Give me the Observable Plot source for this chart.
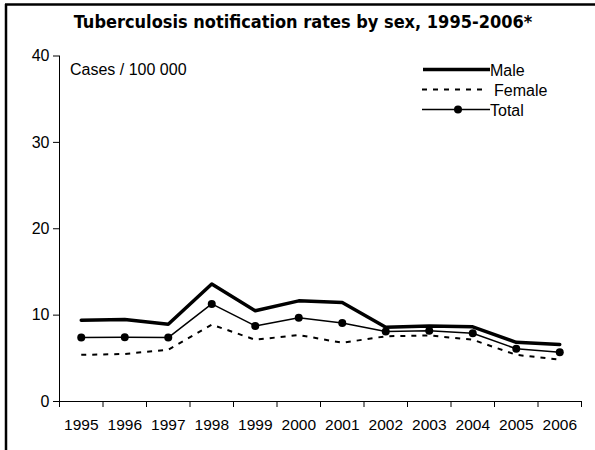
<!DOCTYPE html>
<html><head><meta charset="utf-8">
<script src="https://cdn.jsdelivr.net/npm/d3@7"></script>
<script src="https://cdn.jsdelivr.net/npm/@observablehq/plot@0.6"></script>
<style>body{margin:0;background:#fff} svg{display:block}</style>
</head><body><div id="chart"></div>
<script>
const years = [1995,1996,1997,1998,1999,2000,2001,2002,2003,2004,2005,2006];
const male   = [9.4, 9.5, 8.95, 13.6, 10.5, 11.65, 11.45, 8.6, 8.75, 8.65, 6.85, 6.6];
const female = [5.4, 5.5, 6.0, 8.9, 7.15, 7.7, 6.8, 7.55, 7.65, 7.15, 5.4, 4.85];
const total  = [7.4, 7.45, 7.4, 11.3, 8.75, 9.7, 9.1, 8.1, 8.2, 7.9, 6.1, 5.7];
const yTicks = [0, 10, 20, 30, 40];
const seriesNames = ["Male", "Female", "Total"];
const titleText = "Tuberculosis notification rates by sex, 1995-2006*";
const unitLabel = "Cases / 100 000";

const rows = s => years.map((year, i) => ({year, value: s[i]}));
const bounds = [years[0] - 0.5, ...years.map(y => y + 0.5)];
const FONT = "'Liberation Sans', Arial, sans-serif";

const chart = Plot.plot({
  width: 595, height: 450,
  marginLeft: 59, marginRight: 14, marginTop: 55.5, marginBottom: 49,
  style: {fontFamily: FONT, fontSize: "15.5px", color: "#000", background: "#fff"},
  x: {type: "linear", domain: [bounds[0], bounds[bounds.length - 1]]},
  y: {domain: [0, 40]},
  marks: [
    Plot.ruleX([bounds[0]], {y1: 0, y2: 40, stroke: "#000"}),
    Plot.ruleY([0], {x1: bounds[0], x2: bounds[bounds.length - 1], stroke: "#000"}),
    Plot.axisY({ticks: yTicks, tickSize: 6, tickPadding: 4, label: null, fontSize: 16, tickFormat: d => String(d)}),
    Plot.axisX({ticks: bounds, tickSize: 6, tickFormat: () => "", label: null}),
    Plot.axisX({ticks: years, tickSize: 0, tickPadding: 17, fontSize: 15.5, tickFormat: d => String(d), label: null}),
    Plot.line(rows(female), {x: "year", y: "value", stroke: "#000", strokeWidth: 2, strokeDasharray: "5,6", strokeLinecap: "butt"}),
    Plot.line(rows(total), {x: "year", y: "value", stroke: "#000", strokeWidth: 1.5}),
    Plot.dot(rows(total), {x: "year", y: "value", r: 4, fill: "#000"}),
    Plot.line(rows(male), {x: "year", y: "value", stroke: "#000", strokeWidth: 3.5})
  ]
});
document.getElementById("chart").append(chart);

const svg = d3.select(chart);
// frame
svg.append("line").attr("x1", 6).attr("x2", 6).attr("y1", 4).attr("y2", 450).attr("stroke", "#000").attr("stroke-width", 2.5);
svg.append("line").attr("x1", 5).attr("x2", 595).attr("y1", 4.5).attr("y2", 4.5).attr("stroke", "#000").attr("stroke-width", 2.5);
// title
svg.append("text").attr("x", 303).attr("y", 28).attr("text-anchor", "middle")
  .attr("font-family", "'DejaVu Sans Condensed', 'DejaVu Sans', sans-serif")
  .attr("font-stretch", "condensed")
  .attr("font-weight", "bold").attr("font-size", 18).attr("fill", "#000").text(titleText);
// unit label
svg.append("text").attr("x", 70).attr("y", 75).attr("text-anchor", "start")
  .attr("font-family", FONT).attr("font-size", 16).attr("fill", "#000").text(unitLabel);
// legend
const lg = svg.append("g").attr("fill", "#000").attr("font-size", 16).attr("font-family", FONT).attr("text-anchor", "start");
lg.append("line").attr("x1", 423).attr("x2", 490).attr("y1", 69.5).attr("y2", 69.5).attr("stroke", "#000").attr("stroke-width", 3.5);
lg.append("text").attr("x", 490).attr("y", 76).text(seriesNames[0]);
lg.append("line").attr("x1", 422).attr("x2", 487).attr("y1", 89.5).attr("y2", 89.5).attr("stroke", "#000").attr("stroke-width", 2).attr("stroke-dasharray", "5,6");
lg.append("text").attr("x", 494).attr("y", 96).text(seriesNames[1]);
lg.append("line").attr("x1", 422).attr("x2", 490).attr("y1", 109.5).attr("y2", 109.5).attr("stroke", "#000").attr("stroke-width", 1.5);
lg.append("circle").attr("cx", 458).attr("cy", 109.5).attr("r", 4);
lg.append("text").attr("x", 490).attr("y", 116).text(seriesNames[2]);
</script>
</body></html>
